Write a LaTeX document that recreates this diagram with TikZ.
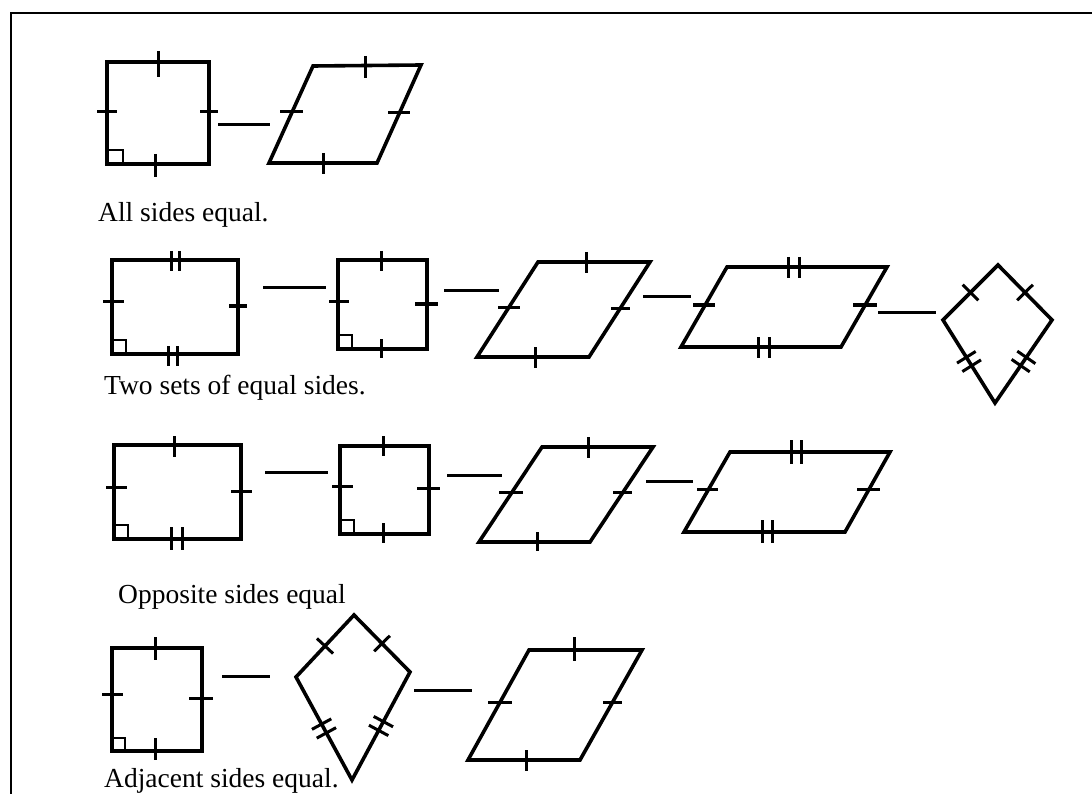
\documentclass[tikz,border=0pt]{standalone}
\usepackage{fontspec}
\setmainfont{Liberation Serif}
\usetikzlibrary{calc}
\newcommand\sidetick[2]{\draw[tk] ($(#1)!0.5!(#2)!11pt!90:(#2)$) -- ($(#1)!0.5!(#2)!11pt!-90:(#2)$);}
\newcommand\sidedtick[2]{%
  \draw[tk] ($(#1)!0.5!(#2)!-5pt!(#2)!11pt!90:(#2)$) -- ($(#1)!0.5!(#2)!-5pt!(#2)!11pt!-90:(#2)$);
  \draw[tk] ($(#1)!0.5!(#2)!5pt!(#2)!11pt!90:(#2)$) -- ($(#1)!0.5!(#2)!5pt!(#2)!11pt!-90:(#2)$);}
\begin{document}
\begin{tikzpicture}[x=1pt,y=-1pt,
  shp/.style={line width=3.6pt, line join=miter},
  tk/.style={line width=3pt},
  ra/.style={line width=2.8pt},
  link/.style={line width=3pt},
  lbl/.style={anchor=base west, inner sep=0pt, font=\fontsize{27.5}{30}\selectfont}]
\useasboundingbox (0,0) rectangle (1092,794);
\draw[line width=2.4pt] (11,794) -- (11,13) -- (1092,13);

% ---------- Row 1 ----------
\draw[shp] (107,62) rectangle (209,164);
\draw[tk] (158,51)--(158,77) (97,112)--(117,112) (200,112)--(218,112) (155,154)--(155,177);
\draw[ra] (107,150) -| (123,164);
\coordinate (a1) at (218,125); \coordinate (a2) at (270,125);
\draw[link] (a1) -- (a2);
\draw[shp] (269,163) -- (377,163) -- (421,65) -- (313,66) -- cycle;
\draw[tk] (365,56)--(365,78) (280,112)--(303,112) (388,113)--(410,113) (323,153)--(323,174);
\node[lbl] (t1) at (98,222) {All sides equal.};

% ---------- Row 2 ----------
\draw[shp] (112,260) rectangle (238,354);
\draw[tk] (171,251)--(171,271) (179,251)--(179,271) (168,346)--(168,366) (177,346)--(177,366)
  (103,302)--(124,302) (229,306)--(247,306);
\draw[ra] (112,340) -| (126,354);
\coordinate (b1) at (263,288); \coordinate (b2) at (326,288);
\draw[link] (b1) -- (b2);
\draw[shp] (338,260) rectangle (427,349);
\draw[tk] (381,251)--(381,271) (329,302)--(349,302) (415,304)--(438,304) (381,339)--(381,358);
\draw[ra] (338,335) -| (352,349);
\coordinate (b3) at (444,291); \coordinate (b4) at (499,291);
\draw[link] (b3) -- (b4);
\draw[shp] (477,357) -- (589,357) -- (650,262) -- (538,262) -- cycle;
\draw[tk] (586,252)--(586,273) (498,307)--(520,307) (611,308)--(630,308) (535,347)--(535,368);
\coordinate (b5) at (643,297); \coordinate (b6) at (691,297);
\draw[link] (b5) -- (b6);
\draw[shp] (681,347) -- (841,347) -- (887,267) -- (727,267) -- cycle;
\draw[tk] (788,257)--(788,278) (799,257)--(799,278) (758,337)--(758,358) (769,337)--(769,358)
  (693,305)--(715,305) (853,305)--(877,305);
\coordinate (b7) at (878,312); \coordinate (b8) at (936,312);
\draw[link] (b7) -- (b8);
\coordinate (kL) at (943,320); \coordinate (kT) at (998,265);
\coordinate (kR) at (1052,320); \coordinate (kB) at (995,403);
\draw[shp] (kL) -- (kT) -- (kR) -- (kB) -- cycle;
\sidetick{kL}{kT} \sidetick{kT}{kR}
\sidedtick{kL}{kB} \sidedtick{kR}{kB}
\node[lbl] (t2) at (104,394) {Two sets of equal sides.};

% ---------- Row 3 ----------
\draw[shp] (114,445) rectangle (241,539);
\draw[tk] (174,436)--(174,457) (106,487)--(127,487) (231,491)--(252,491)
  (171,527)--(171,550) (182,527)--(182,550);
\draw[ra] (114,525) -| (128,539);
\coordinate (c1) at (265,472); \coordinate (c2) at (328,472);
\draw[link] (c1) -- (c2);
\draw[shp] (340,446) rectangle (429,534);
\draw[tk] (383,436)--(383,456) (332,486)--(353,486) (417,488)--(440,488) (383,523)--(383,543);
\draw[ra] (340,520) -| (354,534);
\coordinate (c3) at (447,475); \coordinate (c4) at (502,475);
\draw[link] (c3) -- (c4);
\draw[shp] (479,542) -- (590,542) -- (653,447) -- (542,447) -- cycle;
\draw[tk] (588,437)--(588,458) (499,492)--(523,492) (613,492)--(632,492) (537,532)--(537,551);
\coordinate (c5) at (646,481); \coordinate (c6) at (693,481);
\draw[link] (c5) -- (c6);
\draw[shp] (684,532) -- (845,532) -- (890,452) -- (730,452) -- cycle;
\draw[tk] (791,440)--(791,464) (801,440)--(801,464) (762,520)--(762,543) (772,520)--(772,543)
  (697,489)--(718,489) (857,489)--(880,489);
\node[lbl] (t3) at (118,603) {Opposite sides equal};

% ---------- Row 4 ----------
\draw[shp] (112,648) rectangle (202,751);
\draw[tk] (155,637)--(155,660) (102,694)--(123,694) (189,698)--(213,698) (155,738)--(155,760);
\draw[ra] (112,738) -| (125,751);
\coordinate (d1) at (222,676); \coordinate (d2) at (270,676);
\draw[link] (d1) -- (d2);
\coordinate (mL) at (296,677); \coordinate (mT) at (354,615);
\coordinate (mR) at (410,672); \coordinate (mB) at (352,780);
\draw[shp] (mL) -- (mT) -- (mR) -- (mB) -- cycle;
\sidetick{mL}{mT} \sidetick{mT}{mR}
\sidedtick{mL}{mB} \sidedtick{mR}{mB}
\coordinate (d3) at (414,690); \coordinate (d4) at (472,690);
\draw[link] (d3) -- (d4);
\draw[shp] (468,760) -- (580,760) -- (642,650) -- (529,650) -- cycle;
\draw[tk] (574,637)--(574,661) (488,702)--(512,702) (603,702)--(622,702) (526,750)--(526,771);
\node[lbl] (t4) at (104,787) {Adjacent sides equal.};
\end{tikzpicture}
\end{document}
